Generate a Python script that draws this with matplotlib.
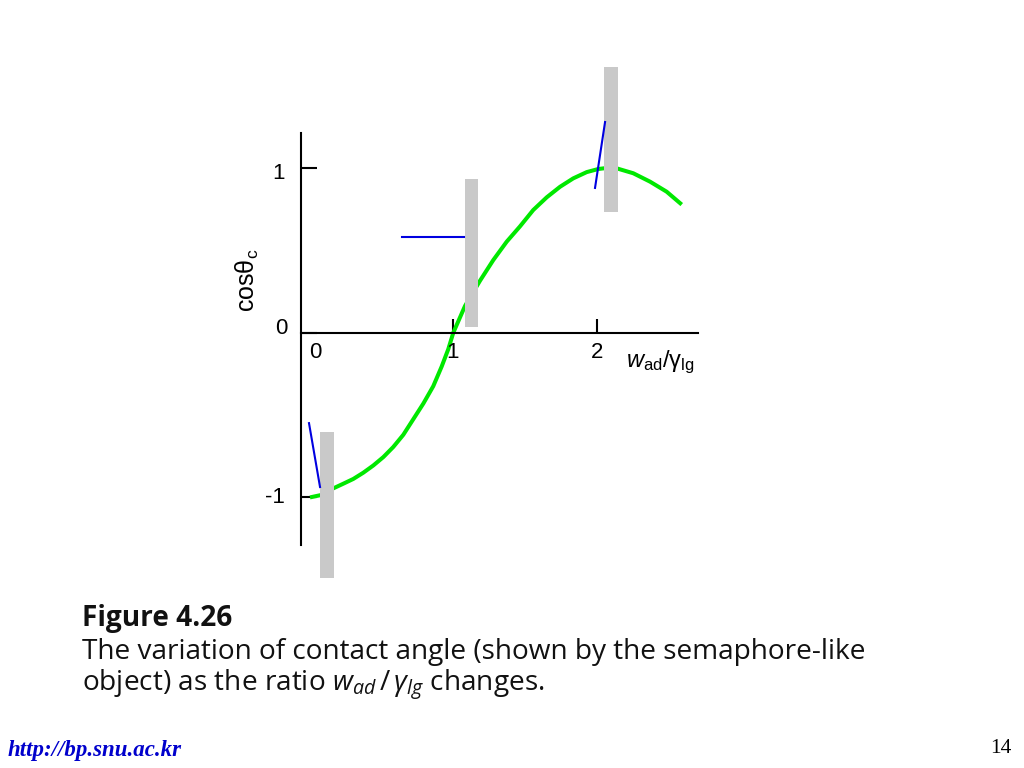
import matplotlib
matplotlib.use('Agg')
import matplotlib.pyplot as plt

# ---- data ----
curve_w = [0.0, 0.08, 0.163, 0.232, 0.302, 0.372, 0.442, 0.512, 0.581, 0.651,
           0.721, 0.791, 0.860, 0.919, 0.965, 1.0, 1.082, 1.186, 1.279, 1.373,
           1.465, 1.558, 1.652, 1.745, 1.837, 1.931, 2.012, 2.07, 2.14, 2.256,
           2.373, 2.489, 2.594]
curve_cos = [-1.0, -0.985, -0.945, -0.917, -0.888, -0.850, -0.806, -0.755, -0.694, -0.620,
             -0.525, -0.430, -0.325, -0.205, -0.100, 0.0, 0.163, 0.315, 0.441, 0.553,
             0.645, 0.745, 0.822, 0.886, 0.937, 0.975, 0.994, 1.0, 0.998, 0.968,
             0.917, 0.856, 0.778]

# solid "posts" of the semaphore-like objects
post_center = [0.118, 1.127, 2.100]
post_bottom = [-1.49, 0.035, 0.733]
post_top = [-0.603, 0.934, 1.613]

# liquid "arms" (contact-angle lines)
arm_w0 = [-0.007, 0.642, 1.989]
arm_c0 = [-0.549, 0.581, 0.879]
arm_w1 = [0.070, 1.075, 2.059]
arm_c1 = [-0.937, 0.581, 1.279]

xtick_vals = [0, 1, 2]
xtick_labels = ['0', '1', '2']
ytick_vals = [-1, 0, 1]
ytick_labels = ['-1', '0', '1']

plt.rcParams['mathtext.fontset'] = 'custom'
plt.rcParams['mathtext.rm'] = 'Open Sans'
plt.rcParams['mathtext.it'] = 'Open Sans:italic'
plt.rcParams['mathtext.sf'] = 'Liberation Sans'
plt.rcParams['mathtext.bf'] = 'Liberation Sans:italic'

fig = plt.figure(figsize=(10.24, 7.68), dpi=100)
W, H = 1024, 768
ax = fig.add_axes([301 / W, 178 / H, 397 / W, 530 / H])
ax.set_xlim(-0.0628, 2.7076)
ax.set_ylim(-1.5622, 1.6557)
ax.patch.set_alpha(0)

# curve
ax.plot(curve_w, curve_cos, color='#00e800', lw=2.9, solid_capstyle='butt',
        solid_joinstyle='round', zorder=2)

# posts
heights = [t - b for t, b in zip(post_top, post_bottom)]
ax.bar(post_center, heights, bottom=post_bottom, width=0.097, color='#c9c9c9',
       edgecolor='none', zorder=3)

# arms
for a, b, c, d in zip(arm_w0, arm_c0, arm_w1, arm_c1):
    ax.plot([a, c], [b, d], color='#0000e0', lw=1.5, zorder=4)

# axes lines
for s in ['top', 'right']:
    ax.spines[s].set_visible(False)
ax.spines['left'].set_bounds(-1.29, 1.213)
ax.spines['bottom'].set_position(('data', 0))
ax.spines['left'].set_linewidth(1.5)
ax.spines['bottom'].set_linewidth(1.5)
ax.spines['left'].set_zorder(5)
ax.spines['bottom'].set_zorder(5)

ax.set_yticks(ytick_vals)
ax.set_xticks(xtick_vals)
ax.tick_params(axis='y', direction='in', length=11.5, width=1.5, labelleft=False)
ax.tick_params(axis='x', direction='in', length=10, width=1.5, labelbottom=False)
ax.xaxis.get_major_ticks()[0].tick1line.set_visible(False)

lab_font = dict(family='Liberation Sans', fontsize=16, color='black')
# y tick labels
y_lab_pos = {'1': (0.933, 285), '0': (-0.008, 288), '-1': (-1.034, 285)}
for v, lab in zip(ytick_vals, ytick_labels):
    yb, xr = y_lab_pos[lab]
    ax.text((xr - 310) / 143.3, yb, lab, ha='right', va='baseline', **lab_font)
# x tick labels
x_lab_off = {'0': 0.038, '1': -0.005, '2': 0.006}
for v, lab in zip(xtick_vals, xtick_labels):
    ax.text(v + x_lab_off[lab], -0.156, lab, ha='center', va='baseline', **lab_font)

# axis titles
ax.text(2.205, -0.208, r'$\mathbf{w}_{\mathsf{ad}}\mathsf{/\gamma}_{\mathsf{lg}}$',
        ha='left', va='baseline', fontsize=17)
ax.text(-0.44, 0.319, r'$\mathsf{cos\theta}_{\mathsf{c}}$', rotation=90,
        ha='center', va='center', fontsize=18)

# caption
cap = dict(family='Open Sans', fontsize=20.2, color='#111111', va='baseline')
fig.text(82 / W, 1 - 626 / H, 'Figure 4.26', fontweight='bold', **cap)
fig.text(82 / W, 1 - 659 / H, 'The variation of contact angle (shown by the semaphore-like', **cap)
fig.text(82 / W, 1 - 691 / H, r'object) as the ratio $w_{ad}\,/\,\gamma_{lg}$ changes.', **cap)

# footer
fig.text(8 / W, 1 - 756 / H, 'http://bp.snu.ac.kr', family='Liberation Serif', style='italic',
         fontweight='bold', color='#0000cc', fontsize=16.5, va='baseline')
fig.text(1012 / W, 1 - 753 / H, '14', family='Liberation Serif', fontsize=15.5,
         ha='right', va='baseline')

fig.savefig('out.png', dpi=100)
